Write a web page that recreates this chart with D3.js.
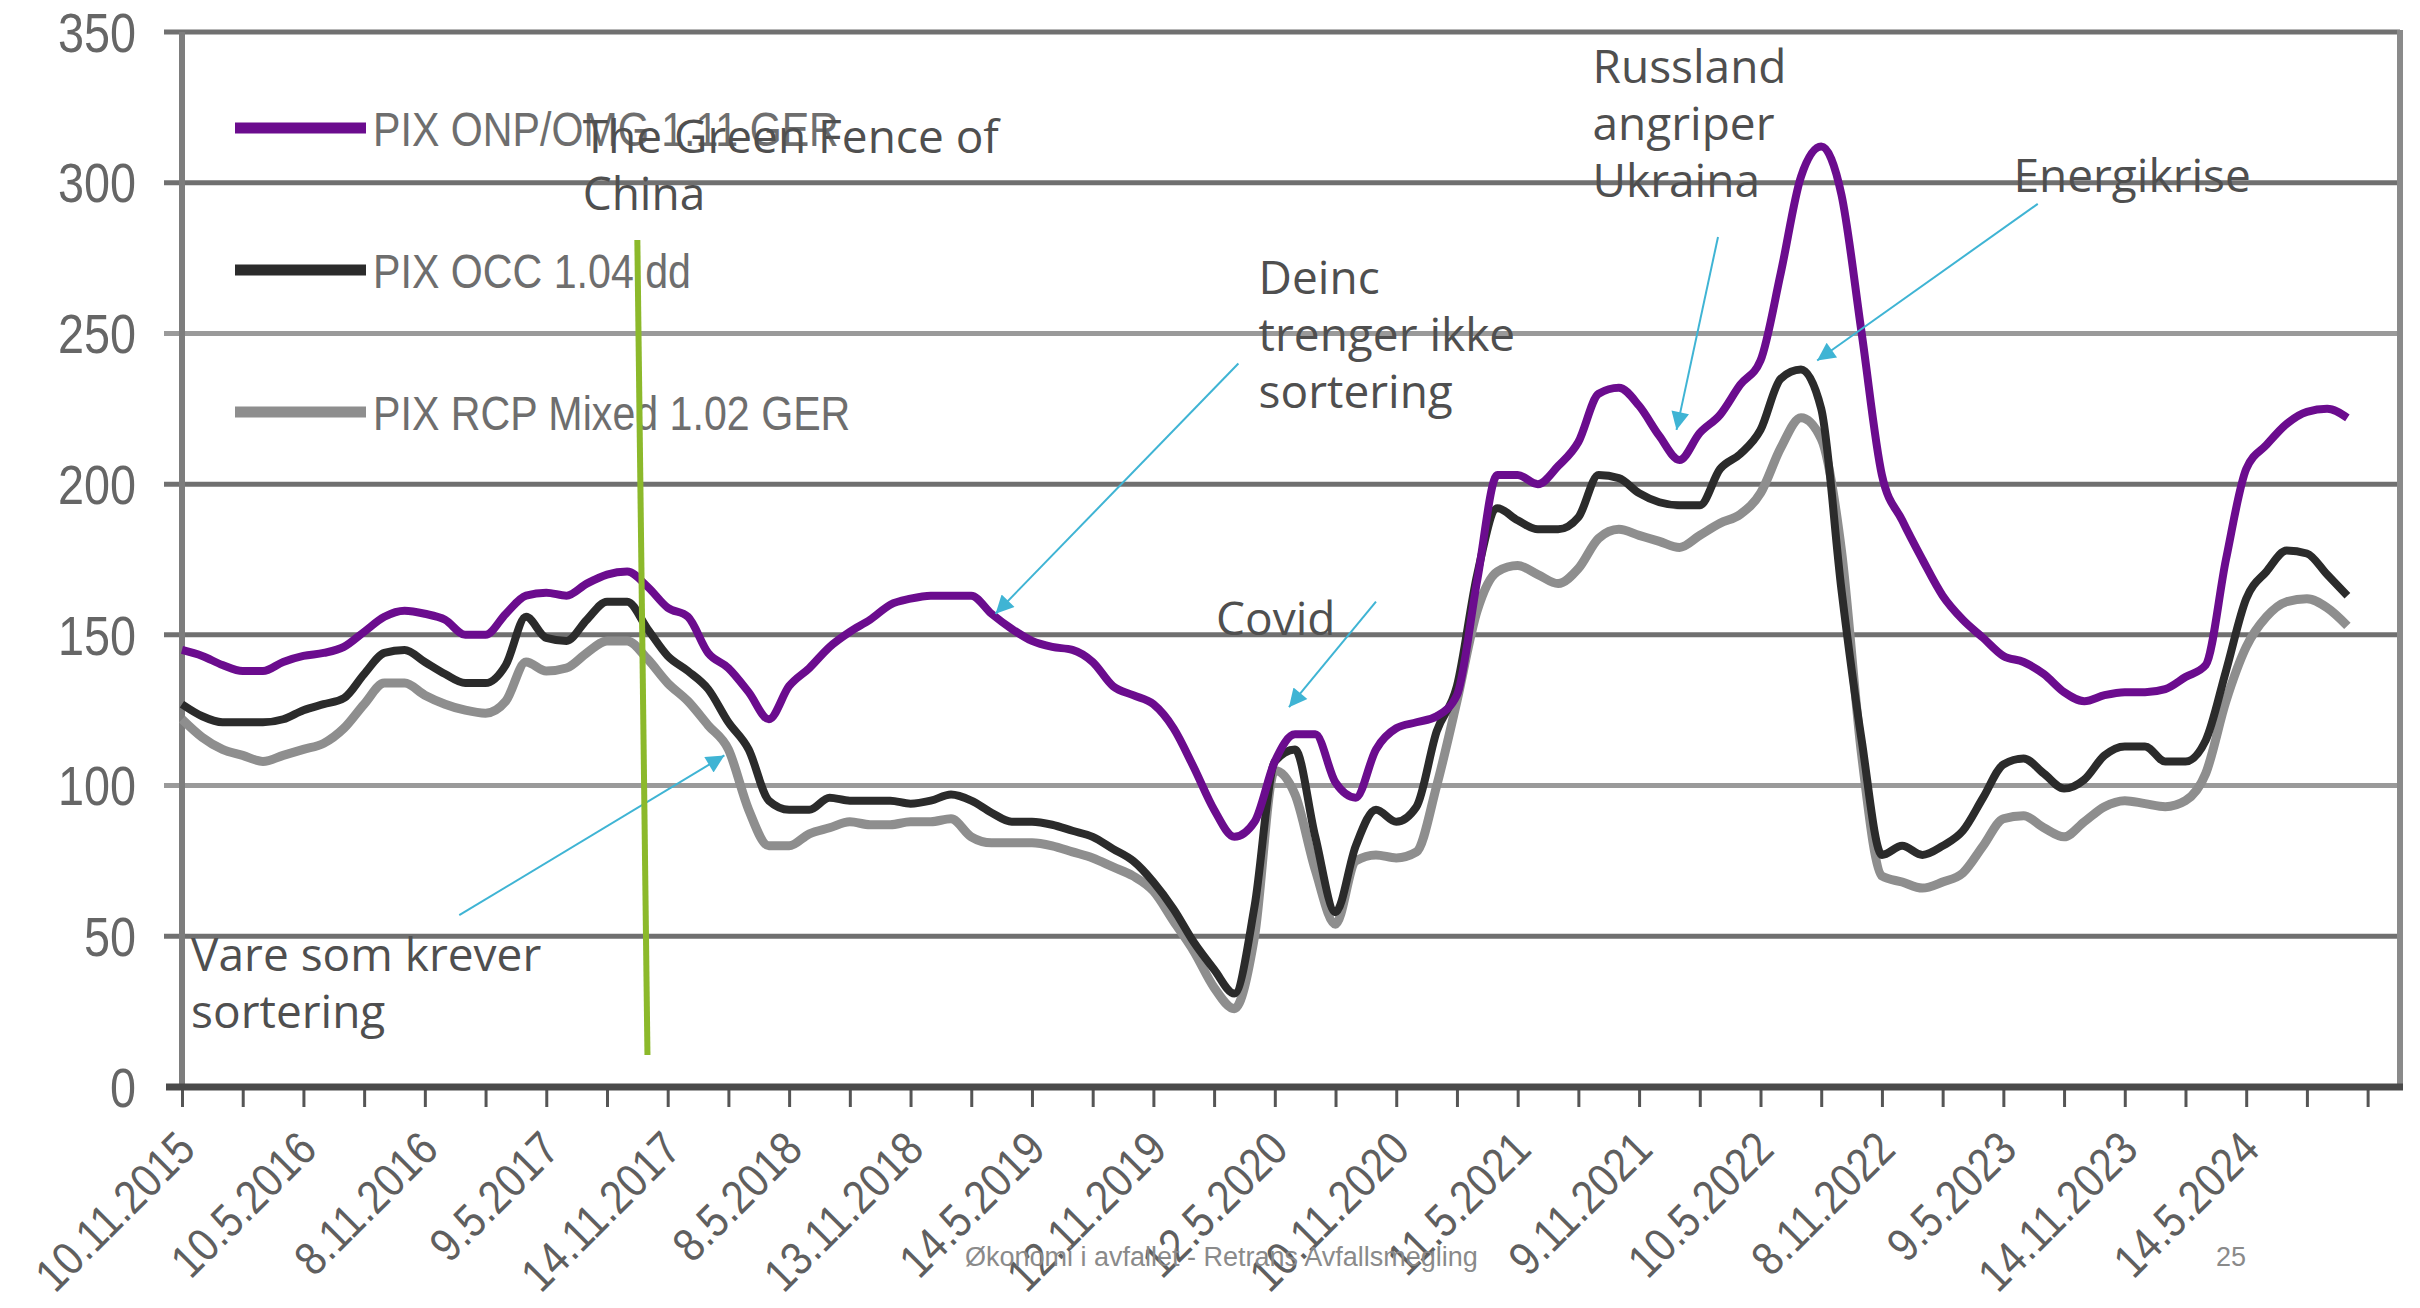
<!DOCTYPE html>
<html>
<head>
<meta charset="utf-8">
<script src="https://cdn.jsdelivr.net/npm/d3@7"></script>
<style>
  body { margin: 0; background: #fff; }
  svg { display: block; }
</style>
</head>
<body>
<div id="chart"></div>
<script>
// monthly values, first point = Nov 2015, last = Oct 2024
var onpValues = [145,143,140,138,138,141,143,144,146,151,156,158,157,155,150,150,157,163,164,163,
  167,170,171,166,159,156,144,139,131,122,133,139,146,151,155,160,162,163,163,163,
  157,152,148,146,145,141,133,130,127,119,106,92,83,88,108,117,117,101,96,112,
  119,121,123,130,168,203,203,200,206,214,230,232,226,216,208,217,223,233,241,270,
  302,312,296,250,203,188,175,163,155,149,143,141,137,131,128,130,131,131,132,136,
  140,175,205,213,220,224,225,222];

var occValues = [127,123,121,121,121,122,125,127,129,137,144,145,141,137,134,134,140,156,149,148,
  155,161,161,152,143,138,132,121,112,95,92,92,96,95,95,95,94,95,97,95,
  91,88,88,87,85,83,79,75,68,59,48,39,31,60,108,112,83,58,80,92,
  88,93,118,133,170,192,188,185,185,189,203,202,197,194,193,193,205,210,218,235,
  238,225,165,115,77,80,77,80,85,96,107,109,104,99,102,110,113,113,108,108,
  115,138,162,171,178,177,170,163];

var rcpValues = [122,116,112,110,108,110,112,114,119,127,134,134,130,127,125,124,128,141,138,139,
  144,148,148,142,134,128,120,112,92,80,80,84,86,88,87,87,88,88,89,83,
  81,81,81,80,78,76,73,70,65,55,45,33,26,50,105,97,72,54,75,77,
  76,78,100,128,158,171,173,170,167,172,182,185,183,181,179,183,187,190,197,212,
  222,215,178,110,70,68,66,68,71,80,89,90,86,83,88,93,95,94,93,95,
  104,128,146,156,161,162,159,153];

var seriesNames = ["PIX ONP/OMG 1.11 GER", "PIX OCC 1.04 dd", "PIX RCP Mixed 1.02 GER"];
var seriesColors = ["#6b0c8e", "#2b2b2b", "#8e8e8e"];

var yTicks = [0, 50, 100, 150, 200, 250, 300, 350];
var xTickLabels = ["10.11.2015","10.5.2016","8.11.2016","9.5.2017","14.11.2017","8.5.2018",
  "13.11.2018","14.5.2019","12.11.2019","12.5.2020","10.11.2020","11.5.2021","9.11.2021",
  "10.5.2022","8.11.2022","9.5.2023","14.11.2023","14.5.2024"];

// annotations, placed in data units (month index, value)
var noteTexts = [["The Green Fence of", "China"], ["Russland", "angriper", "Ukraina"],
  ["Deinc", "trenger ikke", "sortering"], ["Covid"], ["Energikrise"], ["Vare som krever", "sortering"]];
var notePos = [[19.8, 310], [69.7, 333], [53.2, 263], [51.1, 150], [90.5, 297], [0.45, 38.5]];
var arrowFrom = [[13.7, 57], [52.2, 240], [59, 161], [75.9, 282], [91.7, 293]];
var arrowTo = [[26.8, 110], [40.2, 157], [54.7, 126], [73.85, 218], [80.8, 241]];
var greenFence = [[22.5, 281], [23, 10.6]];

var width = 2420, height = 1308;

var svg = d3.select("#chart")
  .append("svg")
  .attr("width", width)
  .attr("height", height);

var x = d3.scaleLinear().domain([0, 109.6]).range([182, 2400]);
var y = d3.scaleLinear().domain([0, 350]).range([1087, 32]);

// gridlines + y labels
svg.append("g")
  .selectAll("line")
  .data(yTicks.filter(d => d > 0))
  .enter()
  .append("line")
  .attr("x1", 164)
  .attr("x2", x.range()[1])
  .attr("y1", d => y(d))
  .attr("y2", d => y(d))
  .attr("stroke", d => (d == 250 || d == 100) ? "#9a9a9a" : "#707070")
  .attr("stroke-width", 5);

svg.append("g")
  .selectAll("text")
  .data(yTicks)
  .enter()
  .append("text")
  .attr("transform", d => "translate(136," + y(d) + ") scale(0.9,1.05)")
  .attr("dy", "0.36em")
  .attr("text-anchor", "end")
  .attr("font-family", "Liberation Sans, Arial, sans-serif")
  .attr("font-size", "52px")
  .attr("fill", "#666")
  .text(d => d);

// left axis and right border
svg.append("line")
  .attr("x1", 182).attr("x2", 182)
  .attr("y1", y(350)).attr("y2", y(0))
  .attr("stroke", "#7d7d7d").attr("stroke-width", 6);
svg.append("line")
  .attr("x1", x.range()[1]).attr("x2", x.range()[1])
  .attr("y1", y(350) - 2).attr("y2", y(0))
  .attr("stroke", "#8a8a8a").attr("stroke-width", 6);

// bottom axis with quarterly ticks
var xAxis = d3.axisBottom(x)
  .tickValues(d3.range(0, 109, 3))
  .tickSize(20)
  .tickFormat("");

var gx = svg.append("g")
  .attr("transform", "translate(0," + y(0) + ")")
  .call(xAxis);
gx.select(".domain").remove();
gx.selectAll(".tick line").attr("stroke", "#555").attr("stroke-width", 3);
svg.append("line")
  .attr("x1", 166).attr("x2", x.range()[1] + 3)
  .attr("y1", y(0)).attr("y2", y(0))
  .attr("stroke", "#4a4a4a").attr("stroke-width", 7);

svg.append("g")
  .selectAll("text")
  .data(xTickLabels)
  .enter()
  .append("text")
  .attr("transform", (d, i) => "translate(" + (x(i * 6) + 4) + ",1140) rotate(-45) scale(0.87,1)")
  .attr("text-anchor", "end")
  .attr("dy", "0.35em")
  .attr("font-family", "Liberation Sans, Arial, sans-serif")
  .attr("font-size", "47px")
  .attr("fill", "#5f5f5f")
  .text(d => d);

// the three series
var line = d3.line()
  .x((d, i) => x(i))
  .y(d => y(d))
  .curve(d3.curveMonotoneX);

var allSeries = [rcpValues, occValues, onpValues];
var allColors = [seriesColors[2], seriesColors[1], seriesColors[0]];
svg.append("g")
  .selectAll("path")
  .data(allSeries)
  .enter()
  .append("path")
  .attr("d", d => line(d))
  .attr("fill", "none")
  .attr("stroke", (d, i) => allColors[i])
  .attr("stroke-width", (d, i) => i == 0 ? 9 : 8)
  .attr("stroke-linejoin", "round");

// legend
var legend = svg.append("g")
  .selectAll("g")
  .data(seriesNames)
  .enter()
  .append("g")
  .attr("transform", (d, i) => "translate(235," + (128 + i * 142) + ")");

legend.append("line")
  .attr("x1", 0).attr("x2", 131)
  .attr("stroke", (d, i) => seriesColors[i])
  .attr("stroke-width", 11);

legend.append("text")
  .attr("transform", "translate(138,0) scale(0.84,1)")
  .attr("dy", "0.36em")
  .attr("font-family", "Liberation Sans, Arial, sans-serif")
  .attr("font-size", "49px")
  .attr("fill", "#6e6e6e")
  .text(d => d);

// arrow marker
svg.append("defs").append("marker")
  .attr("id", "arrowhead")
  .attr("viewBox", "0 0 10 10")
  .attr("refX", 10).attr("refY", 5)
  .attr("markerUnits", "userSpaceOnUse")
  .attr("markerWidth", 20).attr("markerHeight", 18)
  .attr("orient", "auto")
  .append("path")
  .attr("d", "M0,0 L10,5 L0,10 Z")
  .attr("fill", "#3fb4d4");

svg.append("g")
  .selectAll("line")
  .data(arrowFrom)
  .enter()
  .append("line")
  .attr("x1", d => x(d[0]))
  .attr("y1", d => y(d[1]))
  .attr("x2", (d, i) => x(arrowTo[i][0]))
  .attr("y2", (d, i) => y(arrowTo[i][1]))
  .attr("stroke", "#3fb4d4")
  .attr("stroke-width", 2)
  .attr("marker-end", "url(#arrowhead)");

// green fence marker
svg.append("line")
  .attr("x1", x(greenFence[0][0])).attr("y1", y(greenFence[0][1]))
  .attr("x2", x(greenFence[1][0])).attr("y2", y(greenFence[1][1]))
  .attr("stroke", "#8cb92b")
  .attr("stroke-width", 6);

// annotation texts
var notes = svg.append("g")
  .selectAll("text")
  .data(noteTexts)
  .enter()
  .append("text")
  .attr("x", (d, i) => x(notePos[i][0]))
  .attr("y", (d, i) => y(notePos[i][1]))
  .attr("font-family", "Open Sans, sans-serif")
  .attr("font-size", "46px")
  .attr("fill", "#4f4f4f");

notes.selectAll("tspan")
  .data(d => d)
  .enter()
  .append("tspan")
  .attr("x", function() { return d3.select(this.parentNode).attr("x"); })
  .attr("dy", (d, i) => i == 0 ? 0 : 57)
  .text(d => d);

// footer
svg.append("text")
  .attr("x", 965).attr("y", 1266)
  .attr("font-family", "Liberation Sans, Arial, sans-serif")
  .attr("font-size", "27px")
  .attr("fill", "#8a8a8a")
  .text("Økonomi i avfallet - Retrans Avfallsmegling");

svg.append("text")
  .attr("x", 2216).attr("y", 1266)
  .attr("font-family", "Liberation Sans, Arial, sans-serif")
  .attr("font-size", "27px")
  .attr("fill", "#8a8a8a")
  .text("25");
</script>
</body>
</html>
